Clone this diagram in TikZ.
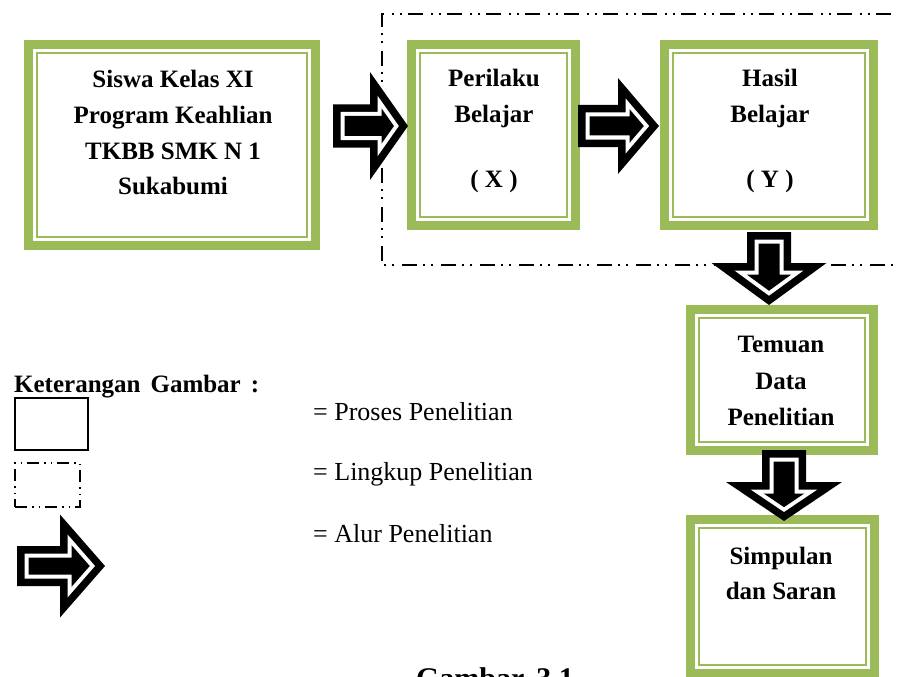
\documentclass[tikz,border=0pt]{standalone}
\usepackage{fontspec}
\setmainfont{Liberation Serif}
\definecolor{boxgreen}{HTML}{9BBB59}
\newcommand\arwfill[7]{%
 \pgfmathsetmacro\arwT{#1+#6}%
 \pgfmathsetmacro\arwS{#4-#6}%
 \pgfmathsetmacro\arwB{#2+#6}%
 \pgfmathsetmacro\arwL{#3-#2}%
 \pgfmathsetmacro\arwR{sqrt(\arwL*\arwL+#5*#5)}%
 \pgfmathsetmacro\arwH{#5*(#3-\arwB)/\arwL-#6*\arwR/\arwL}%
 \pgfmathsetmacro\arwP{#3-#6*\arwR/#5}%
 \fill[#7] (\arwT,\arwS) -- (\arwB,\arwS) -- (\arwB,\arwH) -- (\arwP,0) -- (\arwB,-\arwH) -- (\arwB,-\arwS) -- (\arwT,-\arwS) -- cycle;}
\newcommand\blockarrow[7]{%
 \begin{scope}[shift={#1},rotate=#2]
 \arwfill{#3}{#4}{#5}{#6}{#7}{0}{black}
 \arwfill{#3}{#4}{#5}{#6}{#7}{7.5}{white}
 \arwfill{#3}{#4}{#5}{#6}{#7}{11.5}{black}
 \end{scope}}
\newcommand\innerline[1]{%
 \draw[boxgreen,line width=2pt] ([xshift=8.5pt,yshift=-8.5pt]#1.north west) rectangle ([xshift=-8.5pt,yshift=8.5pt]#1.south east);}
\tikzset{
 gbox/.style 2 args={draw=boxgreen,line width=9pt,fill=white,inner sep=0pt,outer sep=0pt,minimum width=#1,minimum height=#2},
 btxt/.style={font=\fontsize{25}{30}\selectfont\bfseries,inner sep=0pt,anchor=base},
 rtxt/.style={font=\fontsize{26}{30}\selectfont,inner sep=0pt,anchor=base west},
 scopeline/.style={line width=2pt,dash pattern=on 15pt off 6pt on 2pt off 6pt on 2pt off 8pt},
}
\begin{document}
\begin{tikzpicture}[x=1pt,y=-1pt]
\useasboundingbox (0,0) rectangle (898,677);
\fill[white] (0,0) rectangle (898,677);
\clip (0,0) rectangle (898,677);
% scope rectangle (Lingkup Penelitian)
\draw[scopeline] (930,14) -- (382,14) -- (382,265) -- (930,265);
% boxes
\node[gbox={287pt}{201pt}] (b1) at (172,145) {};
\innerline{b1}
\node[gbox={164pt}{181pt}] (b2) at (493.5,135) {};
\innerline{b2}
\node[gbox={209pt}{181pt}] (b3) at (769,135) {};
\innerline{b3}
\node[gbox={183pt}{141pt}] (b4) at (782,380) {};
\innerline{b4}
\node[gbox={184pt}{154pt}] (b5) at (782.5,596.5) {};
\innerline{b5}
% box texts
\node[btxt] (t11) at (173,88) {Siswa Kelas XI};
\node[btxt] (t12) at (173,124) {Program Keahlian};
\node[btxt] (t13) at (173,159) {TKBB SMK N 1};
\node[btxt] (t14) at (173,194) {Sukabumi};
\node[btxt] (t21) at (494,87) {Perilaku};
\node[btxt] (t22) at (494,123) {Belajar};
\node[btxt] (t23) at (494,187) {( X )};
\node[btxt] (t31) at (770,87) {Hasil};
\node[btxt] (t32) at (770,123) {Belajar};
\node[btxt] (t33) at (770,187) {( Y )};
\node[btxt] (t41) at (781,352) {Temuan};
\node[btxt] (t42) at (781,389) {Data};
\node[btxt] (t43) at (781,425) {Penelitian};
\node[btxt] (t51) at (781,564) {Simpulan};
\node[btxt] (t52) at (781,599) {dan Saran};
% block arrows (alur)
\coordinate (a1) at (0,126);
\coordinate (a2) at (0,126);
\coordinate (a3) at (769,0);
\coordinate (a4) at (784,0);
\coordinate (a5) at (0,566);
\blockarrow{(a1)}{0}{333}{370}{408}{21.5}{54}
\blockarrow{(a2)}{0}{578}{618}{659}{21}{48}
\blockarrow{(a3)}{-90}{232}{263}{305}{22}{57.5}
\blockarrow{(a4)}{-90}{450}{482}{521}{22}{58}
% legend
\node[font=\fontsize{25}{30}\selectfont\bfseries,inner sep=0pt,anchor=base west] (leg) at (14,392) {Keterangan\hspace{10pt}Gambar\hspace{10pt}:};
\node[draw,line width=1.5pt,inner sep=0pt,minimum width=73pt,minimum height=52pt] (lg1) at (51.5,424) {};
\node[draw,line width=1.5pt,dash pattern=on 12pt off 5pt on 1.5pt off 5pt on 1.5pt off 5pt,inner sep=0pt,minimum width=65pt,minimum height=44pt] (lg2) at (47.5,485) {};
\blockarrow{(a5)}{0}{17}{60}{105}{20}{51.5}
\node[rtxt] (l1) at (313,420) {= Proses Penelitian};
\node[rtxt] (l2) at (313,480) {= Lingkup Penelitian};
\node[rtxt] (l3) at (313,542) {= Alur Penelitian};
% caption
\node[font=\fontsize{30}{34}\selectfont\bfseries,inner sep=0pt,anchor=base] (cap) at (495,688) {Gambar\hspace{12pt}3.1};
\end{tikzpicture}
\end{document}
